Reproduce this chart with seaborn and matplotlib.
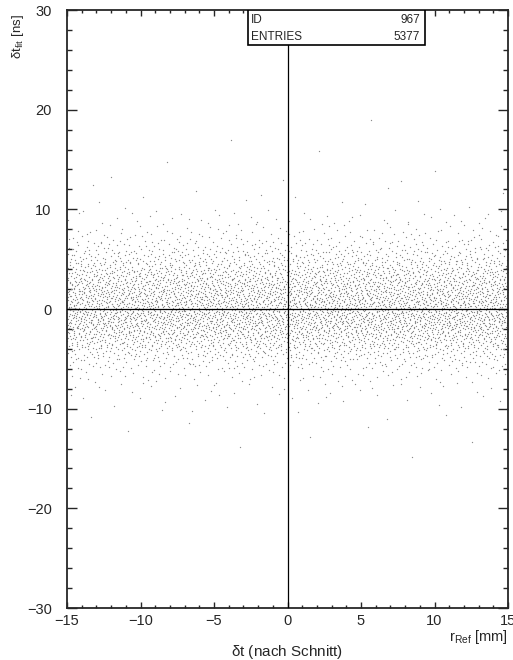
import numpy as np
import pandas as pd
import seaborn as sns
import matplotlib
matplotlib.use("Agg")
from matplotlib import pyplot as plt
from matplotlib.patches import Rectangle

# ------------------------- data -------------------------
# histogram id / number of entries shown in the stats box
hist_id = 967
n_entries = 5377

# y-profile of the scatter: counts per 1 ns slice of dt_fit (estimated by eye)
y_bin_lo = [-16, -15, -14, -13, -12, -11, -10, -9, -8, -7, -6, -5, -4, -3, -2, -1,
            0, 1, 2, 3, 4, 5, 6, 7, 8, 9, 10, 11, 12, 13, 14, 15, 16, 17, 18, 19]
y_counts = [1, 1, 1, 2, 3, 6, 12, 20, 34, 62, 122, 212, 352, 482, 592, 642,
            602, 562, 500, 410, 290, 200, 120, 70, 40, 25, 8, 5, 3, 2, 1, 1, 1, 0, 1, 1]

# x range filled (roughly flat in r_Ref)
x_lo, x_hi = -15.0, 15.0

x_ticks_major = [-15, -10, -5, 0, 5, 10, 15]
y_ticks_major = [-30, -20, -10, 0, 10, 20, 30]


# ------------------------- spread the entries over the profile ---------------
def van_der_corput(n, base, leap=409):
    out = np.zeros(n)
    for k in range(n):
        i, f, v = (k + 1) * leap, 1.0, 0.0
        while i > 0:
            f /= base
            v += f * (i % base)
            i //= base
        out[k] = v
    return out


edges = np.append(np.array(y_bin_lo, float), y_bin_lo[-1] + 1)
cdf = np.concatenate([[0], np.cumsum(y_counts)]) / np.sum(y_counts)
n_pts = int(np.sum(y_counts))
u = van_der_corput(n_pts, 2)
v = van_der_corput(n_pts, 3)
df = pd.DataFrame({"r_ref": x_lo + (x_hi - x_lo) * u,
                   "dt_fit": np.interp(v, cdf, edges)})

# ------------------------- plot ----------------------------------------------
sns.set_style("ticks")
plt.rcParams["font.family"] = ["Liberation Sans", "DejaVu Sans"]
plt.rcParams["mathtext.fontset"] = "custom"
plt.rcParams["mathtext.rm"] = "Liberation Sans"
plt.rcParams["mathtext.it"] = "Liberation Sans"

fig = plt.figure(figsize=(5.13, 6.6), dpi=100)
ax = fig.add_axes([67 / 513, 1 - 608 / 660, 441 / 513, 598 / 660])

sns.scatterplot(data=df, x="r_ref", y="dt_fit", ax=ax, s=0.9, marker="o",
                color="#8c8c8c", linewidth=0, legend=False)

ax.axhline(0, color="black", lw=0.9, zorder=3)
ax.axvline(0, color="black", lw=0.9, zorder=3)

ax.set_xlim(-15, 15)
ax.set_ylim(-30, 30)
ax.set_xticks(x_ticks_major)
ax.set_yticks(y_ticks_major)
ax.set_xticks(np.arange(-15, 16, 1), minor=True)
ax.set_yticks(np.arange(-30, 31, 2), minor=True)
ax.set_xlabel("")
ax.set_ylabel("")

for s in ax.spines.values():
    s.set_linewidth(1.3)
    s.set_visible(True)

ax.tick_params(axis="both", which="both", direction="in", top=True, right=True,
               width=1.0, labelsize=10.5)
ax.tick_params(axis="x", which="major", length=4.5, pad=4)
ax.tick_params(axis="x", which="minor", length=2.5)
ax.tick_params(axis="y", which="major", length=7, pad=11)
ax.tick_params(axis="y", which="minor", length=3.5)

# stats box
box = Rectangle((0.41, 0.9415), 0.402, 0.0585, transform=ax.transAxes,
                facecolor="white", edgecolor="black", lw=1.2, zorder=5)
ax.add_patch(box)
ax.text(0.418, 0.984, "ID", transform=ax.transAxes, ha="left", va="center",
        fontsize=8.5, zorder=6)
ax.text(0.80, 0.984, str(hist_id), transform=ax.transAxes, ha="right",
        va="center", fontsize=8.5, zorder=6)
ax.text(0.418, 0.955, "ENTRIES", transform=ax.transAxes, ha="left", va="center",
        fontsize=8.5, zorder=6)
ax.text(0.80, 0.955, str(n_entries), transform=ax.transAxes, ha="right",
        va="center", fontsize=8.5, zorder=6)

# axis titles
fig.text(18 / 513, 1 - 14 / 660, r"$\delta$t$_{\rm fit}$ [ns]", rotation=90,
         ha="center", va="top", fontsize=9.5)
fig.text(508 / 513, 1 - 637 / 660, r"r$_{\rm Ref}$ [mm]", ha="right",
         va="center", fontsize=10.5)
fig.text(287 / 513, 1 - 652 / 660, r"$\delta$t (nach Schnitt)", ha="center",
         va="center", fontsize=11)

fig.savefig("out.png", dpi=100)
